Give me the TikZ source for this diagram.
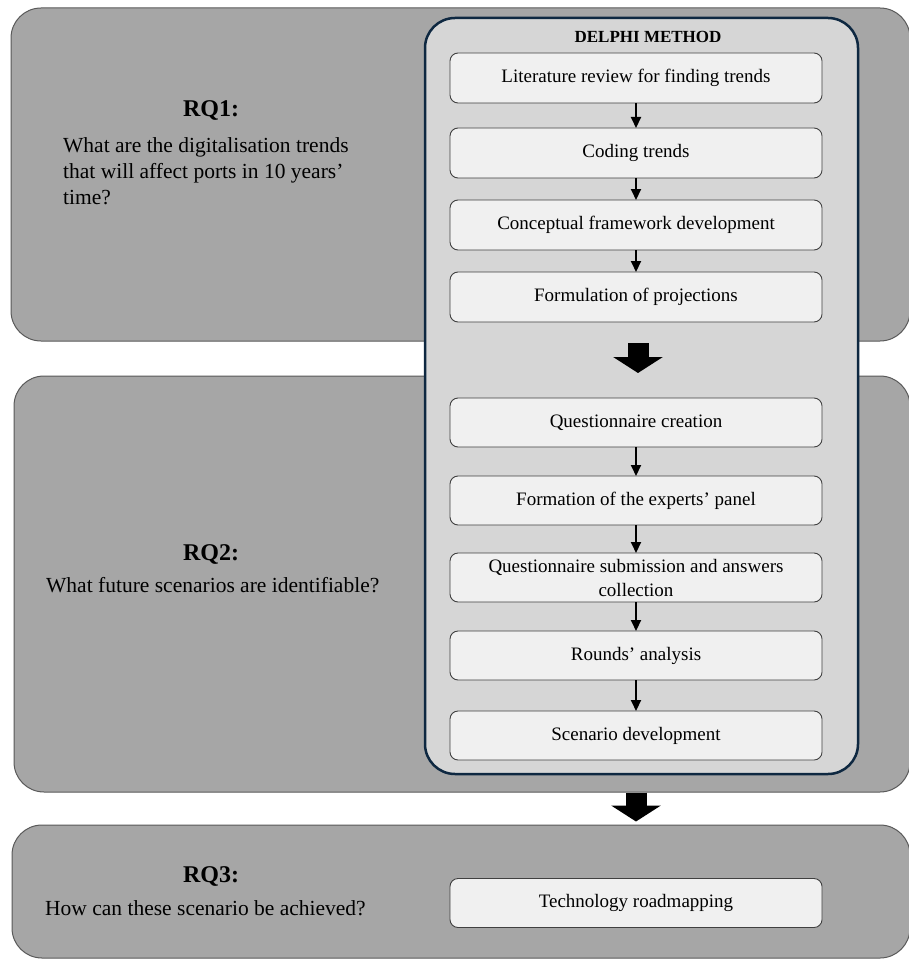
\documentclass[tikz,border=0pt]{standalone}
\usepackage{fontspec}
\setmainfont{Liberation Serif}
\usetikzlibrary{positioning,arrows.meta,calc}
\definecolor{rqgray}{HTML}{A6A6A6}
\definecolor{rqline}{HTML}{595959}
\definecolor{delphifill}{HTML}{D6D6D6}
\definecolor{delphiline}{HTML}{0E2841}
\definecolor{stepfill}{HTML}{F0F0F0}
\definecolor{stepline}{HTML}{404040}

\begin{document}
\begin{tikzpicture}[
    x = 1pt, y = -1pt,
    > = {Triangle[width=10pt,length=11pt]},
    rqbox/.style={draw=rqline, fill=rqgray, rounded corners=30pt, line width=1pt},
    delphibox/.style={draw=delphiline, fill=delphifill, rounded corners=30pt, line width=2.5pt,
        minimum width=433pt, minimum height=756pt},
    stepbox/.style={draw=stepline, fill=stepfill, rounded corners=8pt, line width=0.9pt,
        minimum width=372pt, minimum height=50pt, align=center, inner sep=0pt, outer sep=0pt,
        font=\fontsize{19}{24}\selectfont},
    rqtitle/.style={font=\bfseries\fontsize{24}{28}\selectfont, inner sep=0pt},
    rqtext/.style={font=\fontsize{21.5}{26}\selectfont, align=left, inner sep=0pt},
    bigarrow/.style={line width=21pt, -{Triangle[width=49pt,length=16pt]}}
]
    \useasboundingbox (0,0) rectangle (908,960);

    % research question panels
    \node[rqbox, minimum width=899pt, minimum height=333pt] (rq1) at (460.5,174.5) {};
    \node[rqbox, minimum width=896pt, minimum height=416pt] (rq2) at (462,584) {};
    \node[rqbox, minimum width=898pt, minimum height=133pt] (rq3) at (461,891.5) {};

    \node[rqtitle, anchor=base] (t1) at (211,117) {RQ1:};
    \node[rqtext, anchor=north west] (q1) at (63,137)
        {What are the digitalisation trends\\that will affect ports in 10 years’\\time?};
    \node[rqtitle, anchor=base] (t2) at (211,560) {RQ2:};
    \node[rqtext, anchor=base west] (q2) at (46,592) {What future scenarios are identifiable?};
    \node[rqtitle, anchor=base] (t3) at (211,882) {RQ3:};
    \node[rqtext, anchor=base west] (q3) at (45,915) {How can these scenario be achieved?};

    % delphi method
    \node[delphibox] (delphi) at (641.5,396) {};
    \node[font=\bfseries\fontsize{17}{20}\selectfont, anchor=base, inner sep=0pt]
        (dtitle) at (648,43) {DELPHI METHOD};

    \node[stepbox] (lit) at (636,78) {Literature review for finding trends};
    \node[stepbox, below=25pt of lit] (cod) {Coding trends};
    \node[stepbox, below=22pt of cod] (con) {Conceptual framework development};
    \node[stepbox, below=22pt of con] (proj) {Formulation of projections};
    \node[stepbox, minimum height=49pt, below=76pt of proj] (quest) {Questionnaire creation};
    \node[stepbox, minimum height=49pt, below=29pt of quest] (form) {Formation of the experts’ panel};
    \node[stepbox, minimum height=49pt, below=28pt of form] (sub) {Questionnaire submission and answers\\collection};
    \node[stepbox, minimum height=49pt, below=29pt of sub] (round) {Rounds’ analysis};
    \node[stepbox, minimum height=49pt, below=31pt of round] (scen) {Scenario development};

    \node[stepbox, minimum height=49pt] (tech) at (636,903) {Technology roadmapping};

    \path[->, line width=2pt]
        (lit) edge (cod)
        (cod) edge (con)
        (con) edge (proj)
        (quest) edge (form)
        (form) edge (sub)
        (sub) edge (round)
        (round) edge (scen);

    \draw[bigarrow] ($(proj.south)+(2,21)$) -- ($(quest.north)+(2,-25)$);
    \draw[bigarrow] (rq2.south -| scen.south) -- ($(rq3.north -| scen.north)+(0,-3)$);
\end{tikzpicture}
\end{document}
